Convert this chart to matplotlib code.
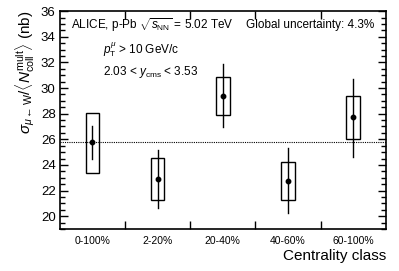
import matplotlib
matplotlib.use('Agg')
from matplotlib import pyplot as plt
from matplotlib.patches import Rectangle
from matplotlib.ticker import MultipleLocator, FixedLocator

plt.rcParams['font.family'] = ['Liberation Sans', 'DejaVu Sans']
plt.rcParams['mathtext.fontset'] = 'custom'
plt.rcParams['mathtext.rm'] = 'Liberation Sans'
plt.rcParams['mathtext.it'] = 'Liberation Sans:italic'
plt.rcParams['mathtext.bf'] = 'Liberation Sans:bold'

categories = ['0-100%', '2-20%', '20-40%', '40-60%', '60-100%']
values = [25.75, 22.9, 29.4, 22.77, 27.7]
stat_low = [24.45, 20.65, 26.95, 20.25, 24.65]
stat_high = [27.05, 25.15, 31.85, 25.3, 30.7]
syst_low = [23.4, 21.25, 27.9, 21.3, 26.0]
syst_high = [28.05, 24.55, 30.85, 24.2, 29.35]
reference_value = 25.75

fig = plt.figure(figsize=(3.99, 2.71), dpi=100)
ax = fig.add_axes([0.150, 0.155, 0.817, 0.804])

box_w = 0.21
for i in range(len(categories)):
    ax.add_patch(Rectangle((i - box_w / 2, syst_low[i]), box_w, syst_high[i] - syst_low[i],
                           fill=False, edgecolor='black', linewidth=1.0, zorder=2))
    ax.plot([i, i], [stat_low[i], stat_high[i]], color='black', linewidth=1.0, zorder=3)
ax.plot(range(len(categories)), values, 'o', color='black', markersize=3.2, zorder=4)

ax.axhline(reference_value, color='black', linestyle=(0, (1, 1)), linewidth=0.8, zorder=1)

ax.set_xlim(-0.5, len(categories) - 0.5)
ax.set_ylim(19, 36)

ax.xaxis.set_major_locator(FixedLocator([0.5, 1.5, 2.5, 3.5]))
ax.xaxis.set_minor_locator(FixedLocator(range(len(categories))))
ax.set_xticklabels([], minor=False)
ax.set_xticklabels(categories, minor=True)
ax.tick_params(axis='x', which='minor', length=0, pad=5, labelsize=7.5)
ax.tick_params(axis='x', which='major', direction='in', length=6, width=1, top=True)

ax.yaxis.set_major_locator(MultipleLocator(2))
ax.yaxis.set_minor_locator(MultipleLocator(0.5))
ax.tick_params(axis='y', which='major', direction='in', length=6, width=1, right=True, labelsize=9.5, pad=3)
ax.tick_params(axis='y', which='minor', direction='in', length=3.5, width=1, right=True)

for s in ax.spines.values():
    s.set_linewidth(1.2)

ax.set_xlabel('Centrality class', fontsize=11, loc='right', labelpad=2)
ax.set_ylabel(r'$\sigma_{\mu\leftarrow\mathrm{W}}/\langle N_{\mathrm{coll}}^{\mathrm{mult}}\rangle$ (nb)',
              fontsize=11, loc='top', labelpad=3)

ax.text(0.035, 0.935, r'ALICE, p-Pb $\sqrt{s_{\mathrm{NN}}}$ = 5.02 TeV', transform=ax.transAxes,
        fontsize=8.5, va='center', ha='left')
ax.text(0.25, 0.825, r'$p_{\mathrm{T}}^{\mu}$ > 10 GeV/c', transform=ax.transAxes,
        fontsize=8.5, va='center', ha='center')
ax.text(0.28, 0.72, r'2.03 < $y_{\mathrm{cms}}$ < 3.53', transform=ax.transAxes,
        fontsize=8.5, va='center', ha='center')
ax.text(0.965, 0.935, 'Global uncertainty: 4.3%', transform=ax.transAxes,
        fontsize=8.5, va='center', ha='right')

fig.savefig('out.png', dpi=100)
